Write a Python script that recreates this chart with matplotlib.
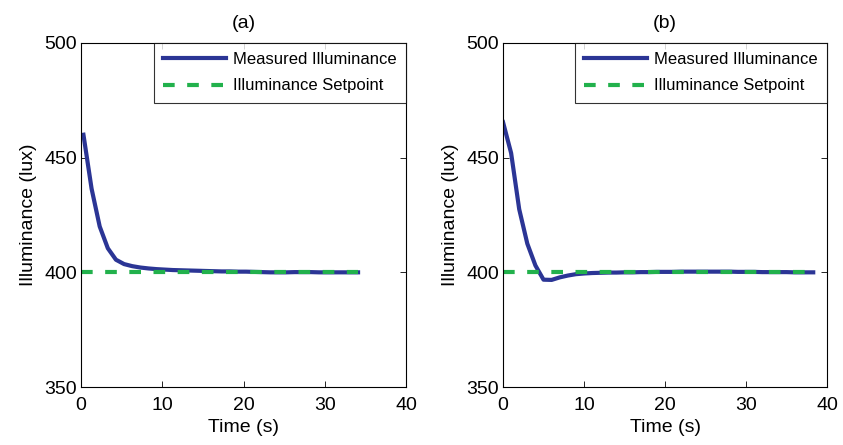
import matplotlib
matplotlib.use("Agg")
import matplotlib.pyplot as plt

plt.rcParams['font.family'] = ['Liberation Sans', 'DejaVu Sans']

# Panel (a)
t_a = [0.3, 1.3, 2.3, 3.3, 4.3, 5.3, 6.3, 7.3, 8.3, 9.3, 10.3, 11.3, 12.3, 13.3,
       14.3, 15.3, 16.3, 17.3, 18.3, 19.3, 20.3, 21.3, 22.3, 23.3, 24.3, 25.3,
       26.3, 27.3, 28.3, 29.3, 30.3, 31.3, 32.3, 33.3, 34.1]
y_a = [460.0, 436.5, 420.0, 410.5, 405.5, 403.6, 402.7, 402.1, 401.7, 401.4,
       401.2, 401.0, 400.9, 400.8, 400.7, 400.6, 400.5, 400.4, 400.4, 400.3,
       400.3, 400.2, 400.1, 400.0, 400.0, 400.0, 400.1, 400.1, 400.1, 400.0,
       400.0, 400.0, 400.0, 400.0, 400.0]
sp_a = [0.0, 34.1]
sp_val_a = [400, 400]

# Panel (b)
t_b = [0, 1, 2, 3, 4, 5, 6, 7, 8, 9, 10, 11, 12, 13, 14, 15, 16, 17, 18, 19,
       20, 21, 22, 23, 24, 25, 26, 27, 28, 29, 30, 31, 32, 33, 34, 35, 36, 37, 38.3]
y_b = [465.5, 452.0, 427.5, 412.5, 403.0, 396.8, 396.7, 397.8, 398.6, 399.2,
       399.5, 399.7, 399.8, 399.9, 399.9, 400.0, 400.0, 400.1, 400.1, 400.2,
       400.2, 400.2, 400.3, 400.3, 400.3, 400.3, 400.3, 400.3, 400.3, 400.2,
       400.2, 400.2, 400.1, 400.1, 400.1, 400.1, 400.0, 400.0, 400.0]
sp_b = [0.0, 38.3]
sp_val_b = [400, 400]

blue = '#2B3595'
green = '#22B14C'

fig = plt.figure(figsize=(8.43, 4.45), dpi=100)
ax1 = fig.add_axes([0.0961, 0.1303, 0.3855, 0.7731])
ax2 = fig.add_axes([0.5967, 0.1303, 0.3843, 0.7731])

for ax, t, y, ts, ys, title in [(ax1, t_a, y_a, sp_a, sp_val_a, '(a)'),
                                (ax2, t_b, y_b, sp_b, sp_val_b, '(b)')]:
    ax.plot(t, y, color=blue, lw=3, label='Measured Illuminance')
    ax.plot(ts, ys, color=green, lw=3, ls=(0, (2.8, 3.0)), label='Illuminance Setpoint')
    ax.set_xlim(0, 40)
    ax.set_ylim(350, 500)
    ax.set_xticks([0, 10, 20, 30, 40])
    ax.set_yticks([350, 400, 450, 500])
    ax.tick_params(direction='in', top=True, right=True, labelsize=14, length=4, width=0.6)
    ax.tick_params(axis='x', pad=7)
    ax.tick_params(axis='y', pad=3)
    for s in ax.spines.values():
        s.set_linewidth(0.8)
    ax.set_xlabel('Time (s)', fontsize=14, labelpad=4)
    ax.set_ylabel('Illuminance (lux)', fontsize=14, labelpad=5)
    ax.set_title(title, fontsize=14, pad=11)
    leg = ax.legend(loc='upper right', fontsize=12, frameon=True, fancybox=False,
                    edgecolor='black', borderaxespad=0.0, handlelength=3.8,
                    handletextpad=0.42, borderpad=0.55, labelspacing=0.68)
    leg.get_frame().set_linewidth(0.8)

fig.savefig('out.png', dpi=100)
